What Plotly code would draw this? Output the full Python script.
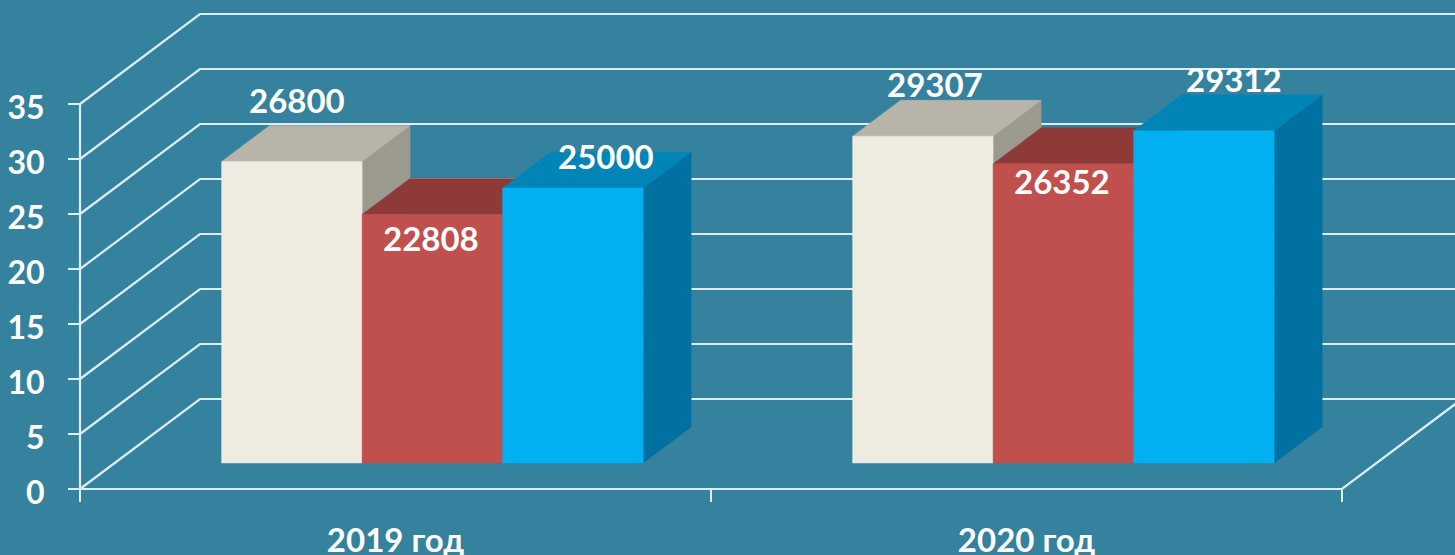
import plotly.graph_objects as go

# ---- data ----
categories = ["2019 год", "2020 год"]
cream_heights = [27.4, 29.7]
red_heights = [22.6, 27.2]
blue_heights = [25.0, 30.2]
cream_labels = ["26800", "29307"]
red_labels = ["22808", "26352"]
blue_labels = ["25000", "29312"]
y_ticks = [0, 5, 10, 15, 20, 25, 30, 35]

# ---- oblique projection of the 3D box ----
PX_X, PX_Y = 631.0, 11.0            # pixels per category / per y unit
WALL_DX, WALL_DY = 120 / PX_X, 90 / PX_Y
BAR_W = 140.5 / PX_X
GROUP_W = 3 * BAR_W
D_FRONT, D_BACK = 0.289, 0.689
CENTER_SHIFT = 0.0035


def proj(x, v, d):
    return x + d * WALL_DX, v + d * WALL_DY


def poly(points, color):
    xs, ys = zip(*(proj(*p) for p in points + points[:1]))
    return go.Scatter(x=xs, y=ys, mode="lines", fill="toself", fillcolor=color,
                      line=dict(color=color, width=0.5), hoverinfo="skip", showlegend=False)


GRID = "#dcEEF3"
fig = go.Figure()

# walls
for v in y_ticks:
    xs, ys = zip(proj(0, v, 0), proj(0, v, 1), proj(2, v, 1))
    fig.add_trace(go.Scatter(x=xs, y=ys, mode="lines", line=dict(color=GRID, width=2.2),
                             hoverinfo="skip", showlegend=False))
xs, ys = zip(proj(0, 35, 0), proj(0, 0, 0), proj(2, 0, 0), proj(2, 0, 1))
fig.add_trace(go.Scatter(x=xs, y=ys, mode="lines", line=dict(color=GRID, width=2.2),
                         hoverinfo="skip", showlegend=False))

series = [
    (cream_heights, cream_labels, "#EEECE1", "#B8B4AA", "#9C998F"),
    (red_heights, red_labels, "#C0504D", "#8E3A38", "#7F3331"),
    (blue_heights, blue_labels, "#00B0F0", "#0085B6", "#0071A0"),
]
label_shift = [
    [(5, 62), (12, 52)],
    [(-1, -24), (-1, -17)],
    [(33, 32), (30, 52)],
]
annotations = []
for c in range(len(categories)):
    left = c + 0.5 + CENTER_SHIFT - GROUP_W / 2
    for s, (heights, labels, front, top, side) in enumerate(series):
        x0, x1 = left + s * BAR_W, left + (s + 1) * BAR_W
        h = heights[c]
        fig.add_trace(poly([(x1, 0, D_FRONT), (x1, 0, D_BACK), (x1, h, D_BACK), (x1, h, D_FRONT)], side))
        fig.add_trace(poly([(x0, h, D_FRONT), (x0, h, D_BACK), (x1, h, D_BACK), (x1, h, D_FRONT)], top))
        fig.add_trace(poly([(x0, 0, D_FRONT), (x1, 0, D_FRONT), (x1, h, D_FRONT), (x0, h, D_FRONT)], front))
        ax, ay = proj((x0 + x1) / 2, h, D_FRONT)
        sx, sy = label_shift[s][c]
        annotations.append(dict(x=ax, y=ay, xref="x", yref="y", text=f"<b>{labels[c]}</b>", showarrow=False,
                                xshift=sx, yshift=sy, xanchor="center", yanchor="middle",
                                font=dict(family="Lato", size=33, color="white")))

fig.update_layout(
    width=1455, height=555, margin=dict(l=0, r=0, t=0, b=0),
    paper_bgcolor="#34829E", plot_bgcolor="#34829E", showlegend=False,
    annotations=annotations,
    xaxis=dict(range=[-80 / PX_X, 1375 / PX_X], anchor="free", position=66 / 555, automargin=False,
               tickmode="array", tickvals=[0.5, 1.5], ticktext=categories, ticks="", ticklen=0,
               tickfont=dict(family="Lato", size=33, color="white", weight="bold"),
               ticklabelstandoff=29, showgrid=False, zeroline=False, showline=False,
               minor=dict(tickmode="array", tickvals=[0, 1, 2], ticks="outside", ticklen=12,
                          tickwidth=2, tickcolor=GRID, showgrid=False)),
    yaxis=dict(range=[-6, 489 / PX_Y], anchor="free", position=80 / 1455, automargin=False,
               tickmode="array", tickvals=y_ticks, ticks="outside", ticklen=12, tickwidth=2,
               tickcolor=GRID, tickfont=dict(family="Lato", size=32, color="white", weight="bold"),
               ticklabelstandoff=17, ticklabelshift=4, showgrid=False, zeroline=False, showline=False),
)
fig.write_html("out.html", config=dict(displayModeBar=False),
               post_script="document.body.style.margin='0';document.body.style.overflow='hidden';")
